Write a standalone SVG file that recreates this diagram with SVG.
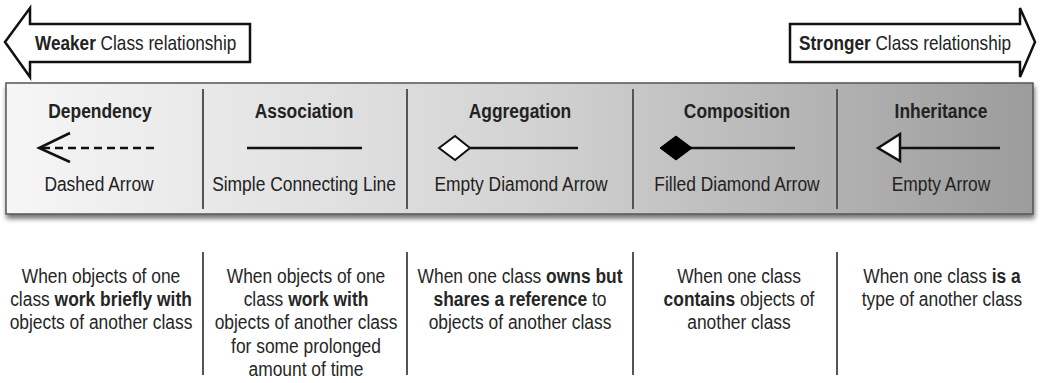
<svg xmlns="http://www.w3.org/2000/svg" width="1040" height="383" viewBox="0 0 1040 383">
<style>
text{font-family:"Liberation Sans",Arial,sans-serif;fill:#222;font-size:20px}
.t{font-weight:bold;text-anchor:middle}
.s{text-anchor:middle}
.d{text-anchor:middle;fill:#262626}
.b{font-weight:bold}
.arr{fill:#fff;stroke:#111;stroke-width:2.5;stroke-linejoin:miter}
.div{stroke:#555;stroke-width:2}
.ln{stroke:#111;stroke-width:2.5;fill:none}
</style>
<defs>
<linearGradient id="band" x1="0" y1="0" x2="1" y2="0">
<stop offset="0" stop-color="#f6f6f6"/>
<stop offset="0.5" stop-color="#d4d4d4"/>
<stop offset="1" stop-color="#9c9c9c"/>
</linearGradient>
<filter id="sh" x="-5%" y="-10%" width="110%" height="130%">
<feGaussianBlur in="SourceAlpha" stdDeviation="2.5"/>
<feOffset dx="1" dy="4" result="o"/>
<feComponentTransfer><feFuncA type="linear" slope="0.55"/></feComponentTransfer>
<feMerge><feMergeNode/><feMergeNode in="SourceGraphic"/></feMerge>
</filter>
</defs>
<rect width="1040" height="383" fill="#fff"/>
<g id="weaker">
<polygon class="arr" points="5,42 30,8 30,24 250,24 250,62 30,62 30,77"/>
<text transform="translate(35 50) scale(0.86 1)"><tspan class="b">Weaker</tspan> Class relationship</text>
</g>
<g id="stronger">
<polygon class="arr" points="1035,42 1020,8 1020,24 790,24 790,62 1020,62 1020,77"/>
<text transform="translate(799 50) scale(0.86 1)"><tspan class="b">Stronger</tspan> Class relationship</text>
</g>
<g id="band-bg">
<rect x="6" y="83" width="1027" height="131" fill="url(#band)" stroke="#555" stroke-width="1.5" filter="url(#sh)"/>
</g>
<g id="dividers">
<line class="div" x1="203" y1="89" x2="203" y2="209"/>
<line class="div" x1="407" y1="89" x2="407" y2="209"/>
<line class="div" x1="633" y1="89" x2="633" y2="209"/>
<line class="div" x1="837" y1="89" x2="837" y2="209"/>
<line class="div" x1="203" y1="252" x2="203" y2="375"/>
<line class="div" x1="407" y1="252" x2="407" y2="375"/>
<line class="div" x1="633" y1="252" x2="633" y2="375"/>
<line class="div" x1="837" y1="252" x2="837" y2="375"/>
</g>
<g id="dependency">
<text class="t" transform="translate(100 118) scale(0.87 1)">Dependency</text>
<g id="dep-icon">
<line class="ln" x1="42" y1="148" x2="158" y2="148" stroke-dasharray="8 5" stroke-width="3"/>
<polyline class="ln" points="70,133 39,148 70,162"/>
</g>
<text class="s" transform="translate(99 191) scale(0.87 1)">Dashed Arrow</text>
</g>
<g id="association">
<text class="t" transform="translate(304 118) scale(0.87 1)">Association</text>
<line class="ln" x1="247" y1="148" x2="362" y2="148"/>
<text class="s" transform="translate(304 191) scale(0.87 1)">Simple Connecting Line</text>
</g>
<g id="aggregation">
<text class="t" transform="translate(520 118) scale(0.87 1)">Aggregation</text>
<line class="ln" x1="470" y1="148" x2="578" y2="148"/>
<polygon points="439,148 455,136 470,148 455,160" fill="#fff" stroke="#111" stroke-width="2"/>
<text class="s" transform="translate(521 191) scale(0.87 1)">Empty Diamond Arrow</text>
</g>
<g id="composition">
<text class="t" transform="translate(737 118) scale(0.87 1)">Composition</text>
<line class="ln" x1="690" y1="148" x2="795" y2="148"/>
<polygon points="660,148 676,136 692,148 676,160" fill="#000" stroke="#000" stroke-width="1"/>
<text class="s" transform="translate(737 191) scale(0.87 1)">Filled Diamond Arrow</text>
</g>
<g id="inheritance">
<text class="t" transform="translate(941 118) scale(0.87 1)">Inheritance</text>
<line class="ln" x1="899" y1="148" x2="1000" y2="148"/>
<polygon points="878,148 900,134 900,161" fill="#fff" stroke="#111" stroke-width="2.5"/>
<text class="s" transform="translate(941 191) scale(0.87 1)">Empty Arrow</text>
</g>
<g id="desc-dependency">
<text class="d" transform="translate(101 283) scale(0.87 1)">When objects of one</text>
<text class="d" transform="translate(101 306) scale(0.87 1)">class <tspan class="b">work briefly with</tspan></text>
<text class="d" transform="translate(101 329) scale(0.87 1)">objects of another class</text>
</g>
<g id="desc-association">
<text class="d" transform="translate(306 283) scale(0.87 1)">When objects of one</text>
<text class="d" transform="translate(306 306) scale(0.87 1)">class <tspan class="b">work with</tspan></text>
<text class="d" transform="translate(306 329) scale(0.87 1)">objects of another class</text>
<text class="d" transform="translate(306 353) scale(0.87 1)">for some prolonged</text>
<text class="d" transform="translate(306 376) scale(0.87 1)">amount of time</text>
</g>
<g id="desc-aggregation">
<text class="d" transform="translate(520 283) scale(0.87 1)">When one class <tspan class="b">owns but</tspan></text>
<text class="d" transform="translate(520 306) scale(0.87 1)"><tspan class="b">shares a reference</tspan> to</text>
<text class="d" transform="translate(520 329) scale(0.87 1)">objects of another class</text>
</g>
<g id="desc-composition">
<text class="d" transform="translate(739 283) scale(0.87 1)">When one class</text>
<text class="d" transform="translate(739 306) scale(0.87 1)"><tspan class="b">contains</tspan> objects of</text>
<text class="d" transform="translate(739 329) scale(0.87 1)">another class</text>
</g>
<g id="desc-inheritance">
<text class="d" transform="translate(942 283) scale(0.87 1)">When one class <tspan class="b">is a</tspan></text>
<text class="d" transform="translate(942 306) scale(0.87 1)">type of another class</text>
</g>
</svg>
